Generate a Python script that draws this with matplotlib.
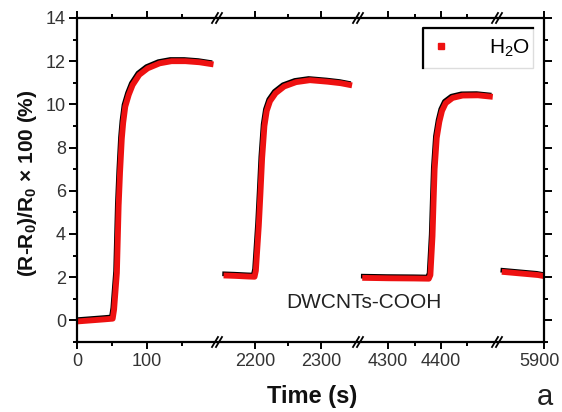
import matplotlib
matplotlib.use("Agg")
import matplotlib.pyplot as plt
import matplotlib.transforms as mtransforms
from matplotlib.lines import Line2D
from matplotlib.patches import Rectangle

plt.rcParams["font.family"] = ["Liberation Sans", "DejaVu Sans"]
plt.rcParams["mathtext.fontset"] = "custom"
plt.rcParams["mathtext.rm"] = "Liberation Sans"
plt.rcParams["mathtext.bf"] = "Liberation Sans:bold"
plt.rcParams["mathtext.it"] = "Liberation Sans:italic"

# response curve, one piece per time window
t1 = [0, 20, 40, 51, 53, 57, 59.5, 61.5, 64, 66, 69, 74, 79.5, 89, 101, 118, 135, 155, 175, 195]
r1 = [-0.05, 0.0, 0.05, 0.08, 0.5, 2.2, 5.3, 6.85, 8.4, 9.15, 9.9, 10.45, 10.9, 11.37, 11.67, 11.9,
      12.0, 12.0, 11.95, 11.85]

t2 = [2152, 2170, 2190, 2199, 2201, 2205.5, 2208, 2210.5, 2214, 2217.5, 2222.5, 2231, 2244, 2262,
      2283, 2310, 2330, 2347]
r2 = [2.08, 2.06, 2.03, 2.02, 2.3, 4.4, 5.9, 7.5, 9.0, 9.7, 10.15, 10.52, 10.83, 11.03,
      11.12, 11.05, 10.98, 10.88]

t3 = [4251, 4300, 4350, 4377, 4380, 4384, 4386, 4388, 4392, 4397, 4402, 4409, 4422, 4441, 4470, 4498]
r3 = [1.97, 1.95, 1.94, 1.93, 2.1, 3.9, 5.5, 7.0, 8.45, 9.2, 9.7, 10.06, 10.3, 10.41, 10.42, 10.35]

t4 = [5830, 5850, 5870, 5890, 5900]
r4 = [2.25, 2.2, 2.15, 2.1, 2.05]

windows = [(0, 200), (2142, 2356), (4243, 4506), (5822, 5900)]
major_x = [[0, 100], [2200, 2300], [4300, 4400], [5900]]
minor_x = [[50, 150], [2250], [4350, 4450], []]
series = [(t1, r1), (t2, r2), (t3, r3), (t4, r4)]

W, H = 562, 412
fig = plt.figure(figsize=(W / 100, H / 100), dpi=100)

edges = [77, 217, 358, 497, 544]
top_px, bot_px = 18, 342
axes = []
for i in range(4):
    ax = fig.add_axes([edges[i] / W, 1 - bot_px / H,
                       (edges[i + 1] - edges[i]) / W, (bot_px - top_px) / H])
    axes.append(ax)
    t, r = series[i]
    shadow = mtransforms.offset_copy(ax.transData, fig=fig, x=-1.3, y=1.7, units="dots")
    ax.plot(t, r, color="black", lw=3.4, transform=shadow, solid_capstyle="butt",
            solid_joinstyle="round")
    ax.plot(t, r, color="#ee1111", lw=4.2, solid_capstyle="butt", solid_joinstyle="round")
    ax.set_xlim(*windows[i])
    ax.set_ylim(-1, 14)
    ax.set_xticks(major_x[i])
    ax.set_xticks(minor_x[i], minor=True)
    ax.set_yticks(range(0, 15, 2))
    ax.set_yticks(range(-1, 15), minor=True)
    for s in ax.spines.values():
        s.set_linewidth(1.6)
    ax.spines["left"].set_visible(i == 0)
    ax.spines["right"].set_visible(i == 3)
    ax.tick_params(axis="x", which="both", direction="out", top=True, bottom=True,
                   width=1.4, labelsize=13, labelcolor="#333333", pad=3)
    ax.tick_params(axis="x", which="major", length=5)
    ax.tick_params(axis="x", which="minor", length=3)
    ax.tick_params(axis="y", which="both", direction="out", width=1.4,
                   left=(i == 0), right=(i == 3), labelleft=(i == 0),
                   labelright=False, labelsize=13, labelcolor="#333333", pad=2)
    ax.tick_params(axis="y", which="major", length=6)
    ax.tick_params(axis="y", which="minor", length=3)

# keep the last tick label inside the picture
nudge = mtransforms.ScaledTranslation(-4 / 100, 0, fig.dpi_scale_trans)
for lab in axes[3].get_xticklabels():
    lab.set_transform(lab.get_transform() + nudge)

# break marks on top and bottom frame
for xb in edges[1:4]:
    for yb in (top_px, bot_px):
        for dx in (-2, 2):
            x0, x1 = (xb + dx - 3) / W, (xb + dx + 3) / W
            y0, y1 = 1 - (yb + 5) / H, 1 - (yb - 5) / H
            fig.add_artist(Line2D([x0, x1], [y0, y1], color="black", lw=1.3))

# legend box
lx0, lx1, ly0, ly1 = 423, 533, 28, 68
fig.add_artist(Rectangle((lx0 / W, 1 - ly1 / H), (lx1 - lx0) / W, (ly1 - ly0) / H,
                         transform=fig.transFigure, facecolor="white",
                         edgecolor="#dddddd", lw=1.0, zorder=5))
fig.add_artist(Line2D([lx0 / W, lx0 / W, lx1 / W], [1 - ly1 / H, 1 - ly0 / H, 1 - ly0 / H],
                      color="black", lw=1.6, zorder=6))
handle = Line2D([], [], ls="none", marker="s", color="#ee1111", markersize=5)
leg = fig.legend([handle], ["H$_2$O"], loc="center", frameon=False,
                 bbox_to_anchor=(480 / W, 1 - 48 / H), fontsize=15,
                 handlelength=1.0, handletextpad=1.8, borderpad=0)
leg.set_zorder(7)

fig.text(364 / W, 1 - 303 / H, "DWCNTs-COOH", ha="center", va="center",
         fontsize=15, color="#222222")
fig.text(312 / W, 1 - 397 / H, "Time (s)", ha="center", va="center",
         fontsize=17, fontweight="bold", color="#111111")
fig.text(28 / W, 1 - 183 / H, "(R-R$_\\mathbf{0}$)/R$_\\mathbf{0}$ × 100 (%)", ha="center",
         va="center", rotation=90, fontsize=15, fontweight="bold", color="#111111")
fig.text(545 / W, 1 - 397 / H, "a", ha="center", va="center", fontsize=21, color="#222222")

fig.savefig("out.png", dpi=100)
